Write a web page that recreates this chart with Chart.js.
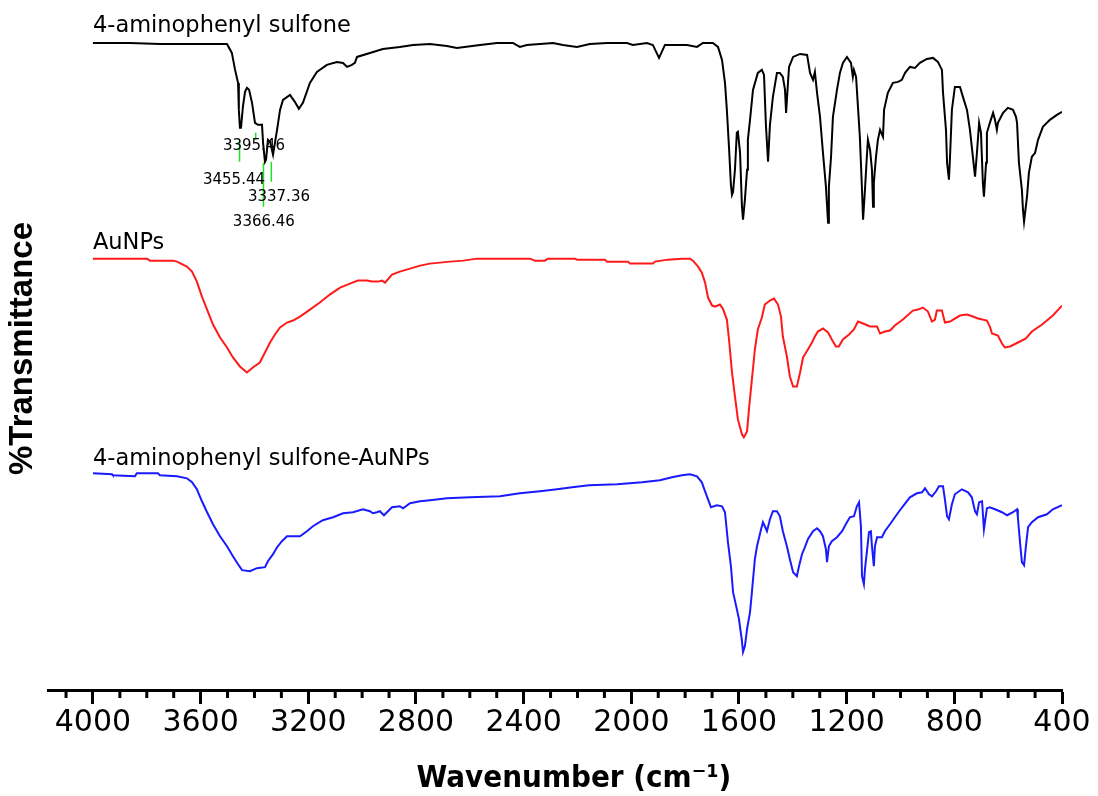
<!DOCTYPE html>
<html>
<head>
<meta charset="utf-8">
<script src="https://cdn.jsdelivr.net/npm/chart.js@4.4.1/dist/chart.umd.min.js"></script>
<style>
html,body{margin:0;padding:0;background:#fff;}
#wrap{width:1098px;height:796px;}
</style>
</head>
<body>
<div id="wrap"><canvas id="c" width="1098" height="796"></canvas></div>
<script>
// ---- Data: [wavenumber (cm-1), %Transmittance (stacked, arbitrary offset)] ----
const sulfone = [[4000,129.6],[3863,129.6],[3751,129.4],[3502,129.4],[3484,127.6],[3472,124.2],[3461,121.6],[3458,116.2],[3454,112.6],[3450,112.6],[3443,116.8],[3435,119.8],[3428,120.6],[3420,120.2],[3409,117.6],[3398,113.6],[3387,113.2],[3372,113.2],[3368,109.6],[3361,105.8],[3357,106.2],[3350,110.2],[3342,109.8],[3331,107.2],[3324,109.6],[3316,112.2],[3305,116.2],[3294,118.2],[3268,119.2],[3250,117.8],[3235,116.4],[3220,117.6],[3194,121.6],[3168,123.8],[3131,125.2],[3094,125.8],[3071,125.6],[3056,124.8],[3038,125.2],[3027,125.6],[3019,126.8],[2971,127.6],[2923,128.4],[2860,128.8],[2811,129.2],[2748,129.4],[2685,129.0],[2648,128.6],[2562,129.2],[2499,129.6],[2440,129.6],[2414,128.8],[2388,129.2],[2291,129.6],[2254,129.2],[2202,128.8],[2154,129.4],[2090,129.6],[2016,129.6],[1994,129.2],[1942,129.6],[1920,129.2],[1897,126.6],[1875,129.2],[1793,129.2],[1756,128.8],[1734,129.6],[1697,129.6],[1678,128.8],[1663,126.2],[1652,121.6],[1645,116.2],[1637,108.6],[1630,101.2],[1626,99.2],[1622,99.8],[1615,104.2],[1608,111.6],[1604,111.8],[1596,107.6],[1589,96.8],[1585,94.2],[1578,98.2],[1570,104.2],[1567,110.2],[1559,114.2],[1548,120.2],[1530,123.6],[1515,124.2],[1507,123.2],[1500,113.2],[1492,105.8],[1485,113.2],[1474,118.8],[1459,123.6],[1448,123.6],[1437,122.8],[1429,120.2],[1425,115.6],[1418,121.6],[1414,124.8],[1399,126.8],[1373,127.4],[1347,127.2],[1336,123.6],[1325,122.2],[1318,123.8],[1310,119.6],[1299,114.8],[1288,107.6],[1277,100.8],[1269,93.6],[1266,100.8],[1258,106.8],[1251,114.8],[1236,120.2],[1225,123.6],[1214,125.6],[1199,126.8],[1184,125.6],[1177,122.8],[1173,124.2],[1165,122.8],[1158,116.8],[1151,110.8],[1143,100.2],[1139,94.2],[1132,100.2],[1125,106.8],[1121,110.2],[1113,108.2],[1106,104.2],[1102,96.8],[1099,101.6],[1091,106.8],[1084,110.2],[1076,112.2],[1065,110.8],[1061,116.2],[1047,119.6],[1028,121.6],[1009,121.8],[995,122.2],[983,123.6],[965,124.8],[946,124.6],[928,125.6],[902,126.4],[879,126.6],[861,125.8],[846,124.2],[842,119.6],[831,112.2],[827,105.6],[820,102.2],[816,106.8],[809,116.2],[798,120.8],[779,120.8],[768,118.8],[753,116.2],[742,112.2],[731,106.8],[723,102.8],[716,107.6],[708,113.6],[701,111.6],[694,101.6],[690,98.8],[682,105.6],[679,111.6],[668,113.6],[656,115.6],[649,114.2],[642,112.2],[638,113.6],[619,115.6],[601,116.6],[582,116.2],[571,114.8],[567,113.6],[560,105.6],[549,100.2],[545,96.2],[541,93.8],[530,98.8],[523,103.6],[512,106.8],[500,107.6],[489,110.2],[471,112.8],[445,114.2],[419,115.2],[400,115.8]];

const aunps = [[4000,86.4],[3799,86.4],[3788,86.0],[3703,86.0],[3688,85.8],[3651,84.8],[3632,83.8],[3614,81.8],[3595,78.8],[3576,76.2],[3554,73.2],[3528,70.6],[3502,68.6],[3480,66.6],[3454,64.8],[3428,63.6],[3406,64.6],[3380,65.6],[3361,67.6],[3342,69.6],[3324,71.2],[3305,72.6],[3279,73.6],[3257,74.0],[3231,74.8],[3194,76.2],[3157,77.6],[3120,79.2],[3082,80.6],[3045,81.4],[3016,82.0],[2982,82.0],[2964,81.8],[2941,81.8],[2926,82.0],[2915,81.6],[2889,83.2],[2860,83.8],[2822,84.4],[2785,85.0],[2748,85.4],[2711,85.6],[2674,85.8],[2625,86.0],[2573,86.4],[2376,86.4],[2358,86.0],[2321,86.0],[2310,86.4],[2209,86.4],[2202,86.2],[2098,86.2],[2090,85.8],[2012,85.8],[2005,85.4],[1920,85.4],[1912,85.8],[1864,86.2],[1812,86.4],[1782,86.4],[1771,86.0],[1752,84.8],[1738,83.6],[1726,81.6],[1715,78.6],[1700,77.0],[1689,76.8],[1671,77.2],[1660,76.4],[1645,74.2],[1637,70.2],[1626,63.6],[1615,58.8],[1604,54.2],[1589,51.2],[1582,50.6],[1570,51.8],[1563,56.2],[1552,62.2],[1541,68.2],[1530,72.2],[1515,74.6],[1504,77.2],[1485,78.0],[1470,78.4],[1455,77.2],[1444,74.8],[1437,70.8],[1422,66.8],[1411,62.8],[1399,60.8],[1385,60.8],[1373,63.6],[1362,66.6],[1344,68.2],[1329,69.6],[1318,70.8],[1307,71.8],[1288,72.4],[1269,71.6],[1255,70.2],[1240,68.8],[1229,68.8],[1214,70.2],[1191,71.2],[1173,72.2],[1158,73.8],[1139,73.4],[1113,72.8],[1087,72.8],[1076,71.4],[1058,71.8],[1039,72.0],[1021,73.0],[991,74.2],[954,76.0],[935,76.2],[917,76.6],[898,75.8],[883,73.8],[872,74.2],[865,76.0],[846,76.0],[835,73.6],[816,73.8],[779,75.0],[753,75.2],[731,74.8],[712,74.4],[679,74.0],[668,72.8],[660,71.4],[638,71.0],[623,69.4],[612,68.6],[593,68.8],[556,69.8],[534,70.4],[512,71.8],[474,73.2],[434,75.0],[400,77.0]];

const sulfoneAunps = [[4000,43.4],[3929,43.2],[3926,43.0],[3844,42.8],[3837,43.4],[3759,43.4],[3751,43.0],[3688,42.8],[3651,42.4],[3632,41.6],[3614,40.2],[3595,37.8],[3576,35.6],[3554,33.2],[3528,30.8],[3502,28.8],[3480,26.8],[3461,25.2],[3446,24.0],[3417,23.8],[3391,24.4],[3361,24.6],[3350,25.8],[3331,27.2],[3316,28.6],[3298,29.8],[3279,30.8],[3231,30.8],[3205,31.8],[3183,32.8],[3146,34.0],[3108,34.6],[3071,35.4],[3034,35.6],[2997,36.2],[2971,35.8],[2960,35.4],[2945,35.6],[2934,35.8],[2919,35.0],[2889,36.6],[2860,36.8],[2848,36.4],[2822,37.4],[2785,37.8],[2748,38.0],[2685,38.4],[2599,38.6],[2488,38.8],[2414,39.4],[2339,39.8],[2276,40.2],[2220,40.6],[2157,41.0],[2053,41.2],[1960,41.6],[1894,42.0],[1849,42.6],[1812,43.0],[1782,43.2],[1756,42.8],[1738,41.6],[1726,39.8],[1715,38.2],[1704,36.6],[1682,37.0],[1663,36.8],[1652,35.6],[1641,29.6],[1630,24.8],[1622,19.6],[1608,16.2],[1600,14.2],[1589,9.8],[1585,7.6],[1578,8.8],[1570,12.2],[1559,15.6],[1552,19.6],[1541,26.2],[1533,28.8],[1518,32.2],[1511,33.6],[1504,32.8],[1496,31.8],[1485,34.2],[1474,35.8],[1459,35.8],[1448,34.8],[1437,31.8],[1422,28.8],[1411,26.2],[1399,23.6],[1385,22.8],[1377,24.8],[1366,27.2],[1355,28.6],[1344,30.2],[1325,31.8],[1310,32.4],[1299,31.8],[1288,30.8],[1277,28.2],[1273,25.6],[1266,28.8],[1255,29.8],[1236,30.6],[1217,31.8],[1199,33.6],[1188,34.6],[1173,34.8],[1162,36.8],[1154,37.6],[1147,32.8],[1143,22.8],[1136,21.2],[1132,24.2],[1125,27.6],[1117,31.6],[1110,31.8],[1106,28.8],[1099,24.8],[1095,28.8],[1087,30.6],[1069,30.6],[1058,31.8],[1039,33.2],[1013,35.2],[991,36.8],[965,38.6],[939,39.4],[920,39.6],[909,40.4],[894,39.2],[883,38.8],[868,39.8],[857,40.8],[842,40.8],[835,38.2],[827,34.8],[820,34.2],[809,37.2],[798,39.2],[772,40.2],[749,39.6],[735,38.6],[723,35.8],[716,35.2],[708,37.6],[697,37.8],[690,32.2],[679,36.4],[668,36.6],[649,36.2],[623,35.6],[604,35.0],[582,35.6],[567,36.2],[564,34.6],[556,29.6],[549,25.6],[541,25.0],[534,28.8],[526,32.6],[512,33.6],[489,34.6],[456,35.2],[434,36.2],[400,37.0]];

// Series names and colours
const seriesNames = ['4-aminophenyl sulfone', 'AuNPs', '4-aminophenyl sulfone-AuNPs'];
const seriesColors = ['#000000', '#ff1a1a', '#1a1aff'];

// Peak annotations (N-H region of 4-aminophenyl sulfone)
const peakValues = ['3395.46', '3455.44', '3337.36', '3366.46'];
const peakMarkerTop = [111.6, 110.2, 105.8, 105.6];
const peakMarkerBottom = [110.2, 105.8, 101.8, 96.8];

// Axis ticks and titles
const majorTickValues = [4000, 3600, 3200, 2800, 2400, 2000, 1600, 1200, 800, 400];
const xTitle = 'Wavenumber (cm\u207B\u00B9)';
const yTitle = '%Transmittance';

// Text anchors (data coordinates) for the labels drawn on the plot
const nameAnchorWn = 4000;
const nameAnchorT = [131.8, 88.4, 45.0];
const peakLabelWn = [3402, 3476, 3309, 3365];
const peakLabelT = [109.0, 102.2, 98.8, 93.8];
const xTitleWn = 2213;

const toXY = arr => arr.map(p => ({x: p[0], y: p[1]}));

const datasets = [sulfone, aunps, sulfoneAunps].map((s, i) => ({
  label: seriesNames[i],
  data: toXY(s),
  borderColor: seriesColors[i],
  borderWidth: 2,
  pointRadius: 0,
  tension: 0,
  fill: false
}));
peakValues.forEach((v, i) => {
  const w = parseFloat(v);
  datasets.push({
    label: 'marker ' + v,
    data: [{x: w, y: peakMarkerTop[i]}, {x: w, y: peakMarkerBottom[i]}],
    borderColor: '#22e022',
    borderWidth: 1.5,
    pointRadius: 0,
    fill: false
  });
});

const textPlugin = {
  id: 'ftirText',
  afterDraw(chart) {
    const {ctx, chartArea} = chart;
    const x = chart.scales.x, y = chart.scales.y;
    ctx.save();
    // minor ticks (every 100 cm-1)
    ctx.strokeStyle = '#000';
    ctx.lineWidth = 3;
    for (let v = 4100; v >= 400; v -= 100) {
      if (majorTickValues.includes(v)) continue;
      const px = x.getPixelForValue(v);
      ctx.beginPath();
      ctx.moveTo(px, chartArea.bottom);
      ctx.lineTo(px, chartArea.bottom + 8);
      ctx.stroke();
    }
    // series names
    ctx.fillStyle = '#000';
    ctx.font = '22.5px "DejaVu Sans"';
    ctx.textAlign = 'left';
    ctx.textBaseline = 'alphabetic';
    seriesNames.forEach((n, i) => {
      ctx.fillText(n, x.getPixelForValue(nameAnchorWn), y.getPixelForValue(nameAnchorT[i]));
    });
    // peak labels
    ctx.font = '15px "DejaVu Sans"';
    ctx.textAlign = 'center';
    ctx.textBaseline = 'middle';
    peakValues.forEach((v, i) => {
      ctx.fillText(v, x.getPixelForValue(peakLabelWn[i]), y.getPixelForValue(peakLabelT[i]));
    });
    // x axis title (condensed bold, placed like the original)
    ctx.font = 'bold 31px "Liberation Sans Narrow", "DejaVu Sans Condensed", "DejaVu Sans"';
    ctx.textAlign = 'center';
    ctx.textBaseline = 'alphabetic';
    ctx.fillText(xTitle, x.getPixelForValue(xTitleWn), chart.height - 9);
    ctx.restore();
  }
};

new Chart(document.getElementById('c'), {
  type: 'line',
  data: {datasets},
  plugins: [textPlugin],
  options: {
    responsive: false,
    animation: false,
    events: [],
    layout: {padding: {left: 3.2, right: 36, top: 7, bottom: 0}},
    plugins: {legend: {display: false}, tooltip: {enabled: false}},
    scales: {
      x: {
        type: 'linear',
        reverse: true,
        min: 400,
        max: 4167,
        border: {display: true, color: '#000', width: 3},
        grid: {
          display: true,
          drawOnChartArea: false,
          drawTicks: true,
          tickLength: 14,
          tickWidth: 3,
          tickColor: c => (c.tick && majorTickValues.includes(c.tick.value)) ? '#000' : 'rgba(0,0,0,0)'
        },
        ticks: {
          stepSize: 100,
          includeBounds: false,
          autoSkip: false,
          maxRotation: 0,
          minRotation: 0,
          padding: 1,
          color: '#000',
          font: {family: '"DejaVu Sans"', size: 30},
          callback: v => majorTickValues.includes(v) ? String(v) : ''
        },
        title: {
          // space reserved here; the visible title is drawn by the plugin
          display: true,
          text: xTitle,
          color: 'rgba(0,0,0,0)',
          font: {family: '"DejaVu Sans"', size: 28, weight: 'bold'},
          padding: {top: 16.2, bottom: 4.2}
        }
      },
      y: {
        type: 'linear',
        min: 0,
        max: 136.8,
        border: {display: false},
        grid: {display: false, drawTicks: false, tickLength: 0},
        ticks: {display: false},
        title: {
          display: true,
          text: yTitle,
          color: '#000',
          font: {family: '"Liberation Sans"', size: 33, weight: 'bold'},
          padding: {top: 0, bottom: 5.2}
        }
      }
    }
  }
});
</script>
</body>
</html>
